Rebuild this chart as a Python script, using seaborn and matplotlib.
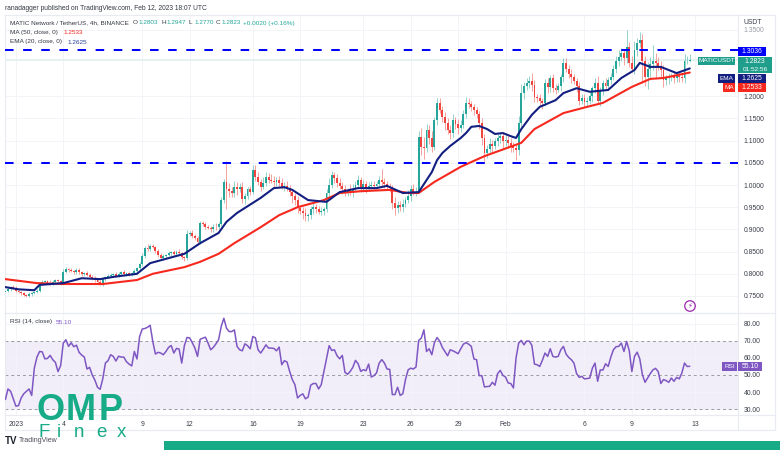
import numpy as np
import pandas as pd
import matplotlib
matplotlib.use('Agg')
import matplotlib.pyplot as plt
from matplotlib.patches import Rectangle, Ellipse
import seaborn as sns

# 4h closes
closes = [
    .762, .766, .771, .768, .762, .760, .756, .753, .751, .755,
    .757, .760, .762, .779, .781, .783, .780, .778, .782, .785,
    .783, .779, .805, .810, .808, .806, .804, .808, .803, .800,
    .802, .798, .792, .790, .786, .782, .778, .788, .793, .796,
    .797, .799, .796, .800, .803, .799, .801, .798, .802, .806,
    .812, .822, .840, .858, .856, .862, .860, .852, .842, .836,
    .840, .842, .846, .848, .845, .850, .846, .838, .835, .890,
    .892, .886, .880, .872, .914, .912, .906, .904, .900, .906,
    .905, .912, .966, 1.006, .992, .986, .982, .996, .990, .996,
    .968, .975, .990, .985, 1.034, 1.018, 1.006, .996, 1.005, 1.018,
    1.012, 1.010, 1.006, 1.012, 1.004, .996, .998, .994, .985, .975,
    .966, .948, .942, .938, .930, .932, .945, .950, .946, .940,
    .942, .945, .982, 1.000, 1.022, 1.015, 1.004, .998, .990, .984,
    .988, .984, .992, 1.000, 1.011, .996, 1.002, .992, .998, 1.000,
    .998, 1.002, 1.012, 1.006, 1.002, .996, .994, .960, .948, .955,
    .950, .958, .966, .975, .990, .985, .985, 1.108, 1.085, 1.083,
    1.124, 1.105, 1.085, 1.146, 1.185, 1.170, 1.153, 1.140, 1.125, 1.118,
    1.146, 1.138, 1.128, 1.135, 1.160, 1.185, 1.182, 1.175, 1.169, 1.160,
    1.140, 1.105, 1.072, 1.082, 1.092, 1.088, 1.098, 1.106, 1.110, 1.098,
    1.102, 1.095, 1.088, 1.084, 1.078, 1.140, 1.207, 1.222, 1.230, 1.235,
    1.226, 1.198, 1.196, 1.190, 1.185, 1.230, 1.220, 1.240, 1.218, 1.215,
    1.222, 1.243, 1.275, 1.262, 1.250, 1.243, 1.235, 1.222, 1.190, 1.196,
    1.188, 1.190, 1.200, 1.218, 1.230, 1.190, 1.212, 1.230, 1.224, 1.236,
    1.243, 1.262, 1.280, 1.288, 1.297, 1.285, 1.310, 1.275, 1.262, 1.304,
    1.320, 1.327, 1.280, 1.243, 1.262, 1.272, 1.280, 1.275, 1.268, 1.260,
    1.236, 1.240, 1.243, 1.246, 1.240, 1.246, 1.243, 1.240, 1.280, 1.2803,
    1.2823,
]
first_open = .760

# wick lengths above / below the candle body, in thousandths
wick_up = [
    3, 4, 2, 3, 4, 3, 2, 3, 2, 3,
    3, 2, 4, 3, 4, 3, 3, 5, 3, 4,
    3, 4, 5, 6, 4, 5, 3, 4, 5, 4,
    3, 4, 3, 5, 4, 3, 4, 5, 3, 4,
    4, 3, 5, 4, 3, 5, 4, 4, 3, 4,
    3, 5, 6, 4, 8, 4, 5, 3, 4, 4,
    4, 3, 5, 4, 5, 3, 5, 4, 3, 8,
    5, 6, 4, 5, 4, 6, 5, 5, 4, 6,
    8, 5, 6, 8, 48, 12, 10, 14, 10, 8,
    10, 8, 6, 8, 11, 10, 12, 8, 14, 12,
    8, 12, 10, 6, 8, 12, 8, 10, 6, 6,
    8, 10, 6, 8, 10, 6, 8, 10, 8, 6,
    8, 6, 8, 16, 10, 8, 10, 12, 8, 10,
    6, 14, 10, 8, 12, 8, 10, 6, 8, 8,
    10, 8, 8, 24, 10, 8, 8, 6, 12, 8,
    8, 10, 8, 14, 10, 12, 10, 14, 20, 22,
    14, 12, 16, 8, 10, 10, 8, 12, 10, 10,
    14, 8, 10, 12, 10, 13, 10, 8, 8, 6,
    6, 12, 10, 8, 14, 10, 8, 8, 10, 8,
    12, 8, 10, 8, 6, 16, 20, 10, 12, 10,
    18, 10, 8, 10, 6, 8, 12, 8, 10, 10,
    8, 6, 10, 10, 8, 12, 8, 6, 10, 8,
    8, 8, 10, 6, 10, 16, 8, 6, 10, 8,
    10, 8, 10, 16, 12, 8, 39, 12, 16, 20,
    10, 18, 14, 10, 14, 16, 35, 18, 14, 12,
    10, 8, 10, 6, 8, 8, 10, 8, 15, 10,
    12,
]
wick_dn = [
    3, 3, 4, 2, 3, 4, 3, 4, 3, 3,
    4, 3, 3, 4, 3, 5, 3, 4, 3, 4,
    5, 4, 3, 4, 5, 3, 4, 4, 3, 4,
    4, 3, 4, 3, 5, 6, 4, 5, 4, 3,
    4, 5, 3, 4, 3, 3, 5, 4, 3, 4,
    4, 3, 4, 5, 4, 5, 3, 6, 5, 4,
    5, 4, 3, 5, 4, 6, 4, 5, 6, 4,
    5, 6, 4, 7, 5, 5, 6, 4, 5, 6,
    6, 5, 4, 6, 46, 14, 10, 8, 12, 6,
    8, 10, 6, 7, 6, 8, 6, 10, 6, 8,
    8, 6, 10, 8, 8, 6, 10, 8, 10, 16,
    10, 12, 8, 14, 10, 12, 8, 10, 8, 6,
    8, 10, 6, 8, 6, 10, 8, 6, 10, 8,
    8, 6, 10, 8, 6, 12, 8, 10, 6, 8,
    10, 8, 6, 10, 8, 6, 10, 14, 16, 10,
    8, 10, 8, 6, 12, 8, 10, 4, 18, 24,
    8, 12, 10, 6, 10, 8, 12, 16, 10, 14,
    10, 12, 14, 8, 6, 10, 8, 8, 12, 10,
    14, 14, 18, 12, 10, 14, 8, 10, 12, 14,
    10, 12, 14, 10, 22, 10, 12, 14, 8, 12,
    14, 10, 8, 12, 14, 8, 12, 10, 8, 10,
    6, 10, 12, 8, 10, 14, 8, 12, 10, 8,
    12, 10, 8, 14, 10, 8, 12, 10, 8, 10,
    8, 6, 10, 12, 8, 14, 10, 10, 8, 12,
    14, 10, 50, 20, 26, 18, 12, 32, 8, 18,
    16, 10, 12, 8, 10, 8, 10, 8, 10, 8,
    3,
]

rsi = [
    35.6, 41.8, 40.4, 36, 31.7, 32, 36.5, 39, 40.4, 41.8,
    38, 54, 60.5, 63.8, 63.6, 59.5, 59.7, 61.5, 59, 57.4,
    52, 55.5, 68.7, 70.7, 66.8, 68.9, 66.6, 67.5, 63.3, 61.7,
    60.5, 53.5, 54.5, 50, 47, 42.8, 41.6, 47.7, 57, 58.4,
    61.9, 60.9, 58.2, 61, 60.5, 60.5, 57.8, 56.4, 55.3, 63.8,
    59.4, 72.6, 77, 77.3, 78, 79.2, 69.7, 62.3, 63.3, 62.9,
    61.9, 63.8, 66.2, 67.3, 62.9, 65.6, 65.2, 57, 67.2, 72,
    71.8, 69, 65.8, 60.9, 71, 71.6, 72.2, 68.7, 64.8, 66.2,
    68.3, 70.7, 78.5, 83.3, 77.5, 75.5, 75.5, 76.5, 66.8, 64.8,
    64.2, 68.3, 67.2, 65.4, 72.6, 71.8, 64.8, 62.9, 65.2, 67.7,
    65.8, 65.8, 65.6, 64.2, 66.4, 56, 58.4, 57.6, 52.1, 47.3,
    44.3, 36.5, 38, 38.9, 36, 37, 44, 45, 45, 41.8,
    44.3, 52, 60, 67.2, 64.4, 64.8, 61.3, 59.5, 61.5, 51.6,
    50.4, 52.1, 54.5, 58.6, 56.6, 52.1, 53.1, 52.5, 56.4, 48.8,
    49.6, 51.2, 57, 59, 57, 53.5, 53.3, 38.5, 38.5, 42.8,
    38, 39, 47.3, 53, 54, 53.5, 54.7, 70.3, 71.6, 76.5,
    63.8, 65.4, 61.9, 69, 72, 69.9, 66.2, 63.8, 61.3, 64.8,
    64.2, 63.4, 62.5, 65.4, 68.1, 69, 68.1, 66.8, 59.4, 59,
    49.6, 49.6, 43, 43.2, 43.4, 45.7, 44, 50.8, 52.7, 49.8,
    48.8, 45.3, 45, 42.4, 60, 68.7, 70.3, 67.7, 69.9, 69.9,
    67.4, 56.4, 56, 55, 58.6, 62.9, 60.9, 65.4, 60.9, 60.5,
    60.9, 64.8, 66.8, 62.3, 60.3, 59, 57, 50.8, 48.6, 49.2,
    47.7, 47.9, 48.2, 54, 57, 46.3, 53, 52.9, 56.6, 55,
    60.5, 64.8, 66.6, 66.8, 68.7, 63.8, 69.7, 64.4, 52, 60.9,
    63.4, 59.5, 50.2, 45.7, 48.2, 50.8, 53, 53.9, 52, 45,
    47.3, 46.7, 45.7, 48.2, 46.3, 48.6, 47.7, 51.2, 57, 55,
    55.1,
]

ema_bars = [0, 5, 11, 13, 22, 29, 36, 41, 50, 55, 68, 74, 81, 84, 88, 97, 102, 106, 109,
            115, 122, 127, 134, 141, 145, 151, 157, 162, 164, 166, 169, 173, 175, 177, 180,
            183, 186, 189, 192, 194, 196, 200, 203, 209, 212, 217, 222, 229, 234, 239, 241,
            245, 249, 255, 260]
ema_vals = [.770, .765, .763, .775, .779, .790, .788, .793, .800, .824, .845, .869, .892,
            .917, .937, .971, .993, .995, .989, .966, .962, .984, .993, .993, .998, .982,
            .984, 1.029, 1.056, 1.072, 1.088, 1.106, 1.117, 1.131, 1.133, 1.126, 1.115,
            1.117, 1.110, 1.106, 1.126, 1.158, 1.176, 1.191, 1.207, 1.218, 1.210, 1.214,
            1.241, 1.259, 1.275, 1.266, 1.266, 1.252, 1.2625]
ma_bars = [0, 12, 22, 37, 50, 56, 68, 74, 81, 87, 97, 104, 111, 121, 127, 135, 146, 153,
           157, 163, 173, 182, 196, 201, 212, 221, 227, 238, 245, 250, 260]
ma_vals = [.788, .779, .777, .777, .786, .800, .815, .827, .845, .869, .905, .932, .950,
           .966, .982, .986, .989, .982, .982, 1.007, 1.041, 1.065, 1.095, 1.126, 1.162,
           1.176, 1.185, 1.221, 1.239, 1.241, 1.2533]

levels = [1.3036, 1.05]
last_price = 1.2823
price_ticks = [1.35, 1.20, 1.15, 1.10, 1.05, 1.00, .95, .90, .85, .80, .75]
rsi_ticks = [80, 70, 60, 50, 40, 30]
date_ticks = [1, 4, 9, 12, 16, 19, 23, 26, 29, 32, 37, 40, 44]
date_labels = ['2023', '4', '9', '12', '16', '19', '23', '26', '29', 'Feb', '6', '9', '13']

GREEN = '#26a69a'
RED = '#f0443e'
NAVY = '#131f80'
MA_RED = '#f7281e'
PURPLE = '#7e57c2'
GRID = '#f3f4f8'
EDGE = '#e9ebf2'
TEAL = '#17ab87'
FS = 4.9  # the text is small in this screenshot
FS_LEG = 4.6

sns.set_theme(style='white')
plt.rcParams['font.family'] = ['Liberation Sans', 'DejaVu Sans']

bar_days = 1 / 3 + np.arange(len(closes)) / 6
df = pd.DataFrame({'day': bar_days, 'close': closes, 'up': wick_up, 'dn': wick_dn})
df['open'] = df['close'].shift(1).fillna(first_open)
df['top'] = df[['open', 'close']].max(axis=1)
df['bottom'] = df[['open', 'close']].min(axis=1)
df['high'] = df['top'] + df['up'] / 1000
df['low'] = df['bottom'] - df['dn'] / 1000
bar_colors = np.where(df['close'] >= df['open'], GREEN, RED)

W, H = 780, 450
fig = plt.figure(figsize=(W / 100, H / 100), dpi=100, facecolor='white')


def pane(x0, y0, x1, y1):
    return fig.add_axes([x0 / W, 1 - y1 / H, (x1 - x0) / W, (y1 - y0) / H])


ax = pane(5, 15, 738, 313)
ax_rsi = pane(5, 313, 738, 415)

# price pane
ax.vlines(df['day'], df['low'], df['high'], colors=bar_colors, lw=0.7, alpha=0.5, zorder=2)
ax.bar(df['day'], df['top'] - df['bottom'], bottom=df['bottom'], width=0.12,
       color=bar_colors, lw=0, zorder=3)
ax.axhline(last_price, color='#dff0ee', lw=1.2, zorder=1)
sns.lineplot(x=bar_days[ma_bars], y=ma_vals, color=MA_RED, linewidth=1.5, ax=ax, zorder=4)
sns.lineplot(x=bar_days[ema_bars], y=ema_vals, color=NAVY, linewidth=1.5, ax=ax, zorder=5)
for lvl in levels:
    ax.axhline(lvl, color='#0000ff', lw=1.45, dashes=(4.25, 4.75), zorder=6)
ax.set_ylim(0.7117, 1.3829)
ax.set_xlim(0.31, 46.72)
ax.set_yticks(price_ticks)
ax.set_yticklabels(['%.4f' % p for p in price_ticks])
ax.yaxis.tick_right()
ax.set_xticks(date_ticks)
ax.tick_params(axis='x', length=0, labelbottom=False)
ax.tick_params(axis='y', length=0, labelsize=FS, labelcolor='#3a3e4a', pad=4)
ax.get_yticklabels()[0].set_color('#9a9da6')

# rsi pane
ax_rsi.axhspan(30, 70, color='#f1edf9', lw=0, zorder=0)
for lvl in [70, 50, 30]:
    ax_rsi.axhline(lvl, color='#9a9aa2', lw=0.7, dashes=(3, 3), zorder=1)
sns.lineplot(x=bar_days, y=rsi, color=PURPLE, linewidth=1.1, ax=ax_rsi, zorder=3)
ax_rsi.set_ylim(26.5, 86.4)
ax_rsi.set_xlim(0.31, 46.72)
ax_rsi.set_yticks(rsi_ticks)
ax_rsi.set_yticklabels(['%.2f' % r for r in rsi_ticks])
ax_rsi.yaxis.tick_right()
ax_rsi.set_xticks(date_ticks)
ax_rsi.set_xticklabels(date_labels)
ax_rsi.tick_params(axis='y', length=0, labelsize=FS, labelcolor='#3a3e4a', pad=4)
ax_rsi.tick_params(axis='x', length=0, labelsize=FS, labelcolor='#3a3e4a', pad=4.5)

for a in (ax, ax_rsi):
    a.set_xlabel('')
    a.set_ylabel('')
    a.grid(True, color=GRID, lw=0.7)
    a.set_axisbelow(True)
    for s in a.spines.values():
        s.set_color(EDGE)
        s.set_linewidth(0.8)

# overlay in pixel coordinates for header, tags and branding
ov = fig.add_axes([0, 0, 1, 1], facecolor='none')
ov.set_xlim(0, W)
ov.set_ylim(H, 0)
ov.axis('off')

ov.plot([5, 775], [430, 430], color=EDGE, lw=0.8)
ov.plot([738, 738], [415, 430], color=EDGE, lw=0.8)
ov.plot([5, 5], [415, 430], color=EDGE, lw=0.8)
ov.plot([738, 775], [415, 415], color=EDGE, lw=0.8)
ov.plot([738, 775], [15, 15], color=EDGE, lw=0.8)
ov.plot([738, 775], [313, 313], color=EDGE, lw=0.8)
ov.plot([775, 775], [15, 430], color=EDGE, lw=0.8)

ov.text(5, 8.5, 'ranadagger published on TradingView.com, Feb 12, 2023 18:07 UTC',
        fontsize=4.75, color='#333842', va='center')
LEG = '#333842'
ov.text(10, 23, 'MATIC Network / TetherUS, 4h, BINANCE', fontsize=FS_LEG, color=LEG, va='center')
for x, lab, val in [(133, 'O', '1.2803'), (161, 'H', '1.2947'), (188.5, 'L', '1.2770'), (216, 'C', '1.2823')]:
    ov.text(x, 23, lab, fontsize=FS_LEG, color=LEG, va='center')
    ov.text(x + 5.5, 23, val, fontsize=FS_LEG, color=GREEN, va='center')
ov.text(243, 23, '+0.0020 (+0.16%)', fontsize=FS_LEG, color=GREEN, va='center')
ov.text(10, 32.5, 'MA (50, close, 0)', fontsize=FS_LEG, color=LEG, va='center')
ov.text(63, 32.5, '1.2533', fontsize=FS_LEG, color=MA_RED, va='center')
ov.text(10, 42, 'EMA (20, close, 0)', fontsize=FS_LEG, color=LEG, va='center')
ov.text(67, 42, '1.2625', fontsize=FS_LEG, color='#2a3f9d', va='center')
ov.text(10, 322, 'RSI (14, close)', fontsize=FS_LEG, color=LEG, va='center')
ov.text(56, 322, '55.10', fontsize=FS_LEG, color=PURPLE, va='center')
ov.text(743, 22.5, 'USDT', fontsize=FS, color='#3a3e4a', va='center')


def tag(x0, x1, y0, y1, color, text, size=FS):
    ov.add_patch(Rectangle((x0, y0), x1 - x0, y1 - y0, color=color, lw=0, zorder=7))
    ov.text((x0 + x1) / 2, (y0 + y1) / 2, text, color='white', fontsize=size,
            ha='center', va='center', zorder=8)


tag(738, 766, 47, 56, '#0000ff', '1.3036')
tag(698, 735, 57, 65, '#1f9e8b', 'MATICUSDT', 4.6)
tag(738, 772, 57, 65.5, '#1f9e8b', '1.2823')
tag(738, 772, 65.5, 73, '#1f9e8b', '01:52:56', 4.6)
tag(718, 735, 73.5, 83, NAVY, 'EMA', 4.6)
tag(738, 766, 73.5, 83, NAVY, '1.2625')
tag(723, 735, 83, 92, MA_RED, 'MA', 4.6)
tag(738, 766, 83, 92, MA_RED, '1.2533')
tag(722, 737, 362, 371, PURPLE, 'RSI', 4.6)
tag(738, 762, 362, 371, PURPLE, '55.10')

ov.add_patch(Ellipse((690, 306), 10.5, 10.5, fill=False, ec='#9c27b0', lw=0.9))
ov.text(690, 306, '\u26a1', fontsize=5, color='#9c27b0', ha='center', va='center',
        family=['DejaVu Sans'])

ov.text(5, 440.5, 'TV', fontsize=7, fontweight='bold', color='#1e222d', va='center')
ov.text(18.5, 440.5, 'TradingView', fontsize=5, color='#4a4e59', va='center')

ov.add_patch(Rectangle((164, 441), W - 164, 9, color=TEAL, lw=0))
for x, ch in [(37, 'O'), (66, 'M'), (99, 'P')]:
    ov.text(x, 420, ch, fontsize=26, fontweight='bold', color=TEAL, va='baseline', zorder=9)
for x, ch in [(38, 'F'), (56.5, 'i'), (74, 'n'), (96.5, 'e'), (117, 'x')]:
    ov.text(x, 437, ch, fontsize=13.5, color=TEAL, va='baseline', zorder=9)

fig.savefig('out.png', dpi=100)
